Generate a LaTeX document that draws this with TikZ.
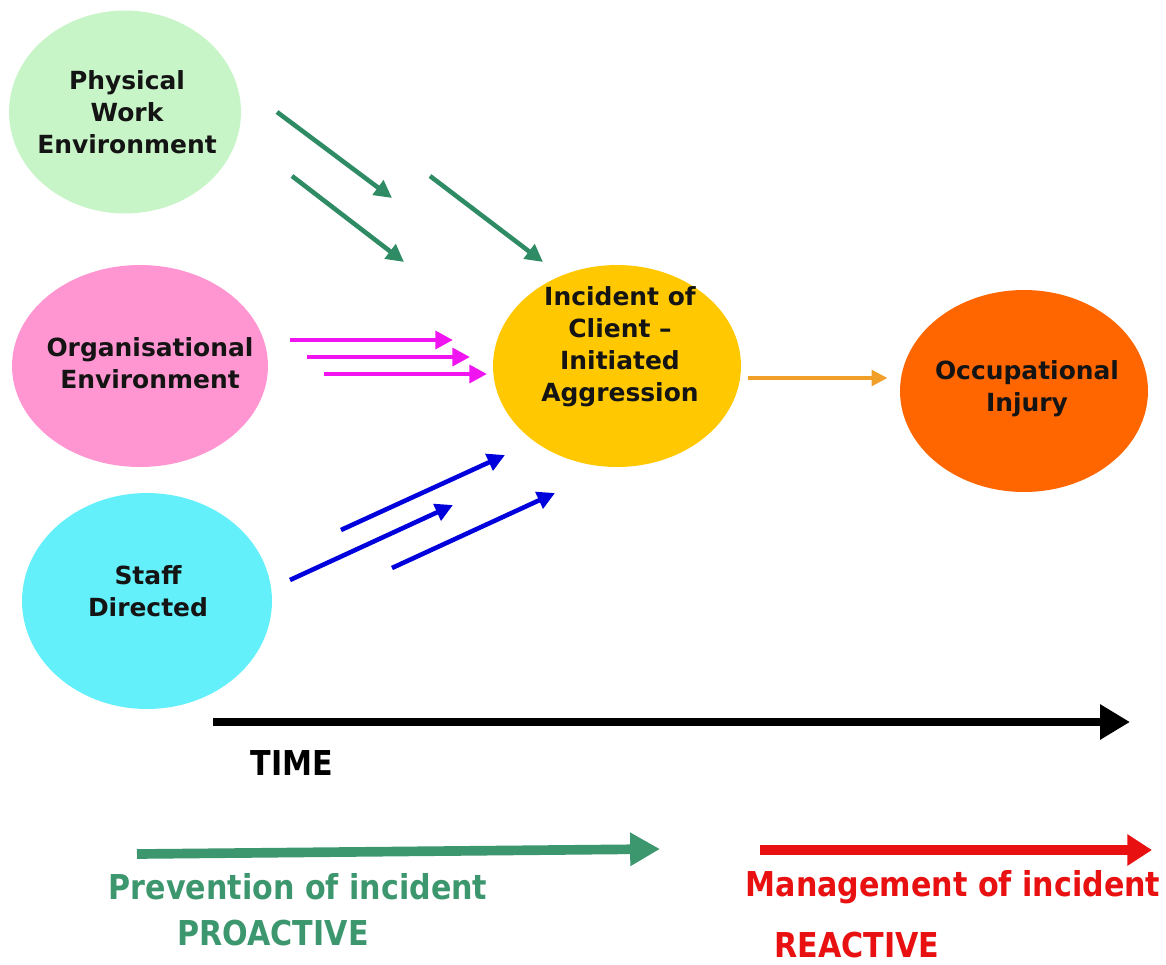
\documentclass[tikz,border=0pt]{standalone}
\usepackage{fontspec}
\setmainfont{DejaVu Sans}
\newfontfamily\narrowfont{DejaVu Sans}[FakeStretch=0.88]
\usetikzlibrary{shapes.geometric,arrows.meta}

\definecolor{workfill}{RGB}{200,245,200}
\definecolor{orgfill}{RGB}{255,150,210}
\definecolor{stafffill}{RGB}{100,240,250}
\definecolor{incidentfill}{RGB}{255,200,0}
\definecolor{injuryfill}{RGB}{255,102,0}
\definecolor{workline}{RGB}{46,139,100}
\definecolor{orgline}{RGB}{240,20,240}
\definecolor{staffline}{RGB}{0,0,220}
\definecolor{flowline}{RGB}{240,160,40}
\definecolor{proactive}{RGB}{60,150,110}
\definecolor{reactive}{RGB}{232,16,16}
\definecolor{textdark}{RGB}{20,20,20}

\tikzset{
  blob/.style={ellipse, inner sep=0pt},
  blobtext/.style={align=center, text=textdark, font=\fontsize{14.2}{18.2}\selectfont\bfseries},
  feed/.style={line width=2.6pt, -{Triangle[length=10pt,width=10pt]}},
  bigarrow/.style={line width=5.5pt, -{Triangle[length=17pt,width=18pt]}},
  bottomtext/.style={font=\narrowfont\fontsize{19.5}{24}\selectfont\bfseries}
}

\begin{document}
\begin{tikzpicture}[x=0.02cm,y=-0.02cm]
\useasboundingbox (0,0) rectangle (1166,964);

% causes
\node[blob, fill=workfill, minimum width=4.64cm, minimum height=4.06cm] (work) at (125,112) {};
\node[blobtext] (worktext) at (127,112) {Physical\\Work\\Environment};
\node[blob, fill=orgfill, minimum width=5.12cm, minimum height=4.04cm] (org) at (140,366) {};
\node[blobtext] (orgtext) at (150,363) {Organisational\\Environment};
\node[blob, fill=stafffill, minimum width=5cm, minimum height=4.32cm] (staff) at (147,601) {};
\node[blobtext] (stafftext) at (148,591) {Staff\\Directed};

% incident and outcome
\node[blob, fill=incidentfill, minimum width=4.96cm, minimum height=4.04cm] (incident) at (617,366) {};
\node[blobtext] (incidenttext) at (620,347) {Incident of\\Client --\\Initiated\\Aggression};
\node[blob, fill=injuryfill, minimum width=4.96cm, minimum height=4.04cm] (injury) at (1024,391) {};
\node[blobtext] (injurytext) at (1027,389) {Occupational\\Injury};

% influences
\draw[feed, workline] (277,112) -- (392,198);
\draw[feed, workline] (292,176) -- (404,262);
\draw[feed, workline] (430,176) -- (543,262);
\foreach \d in {0,17,34}
  \draw[feed, orgline] (290+\d,340+\d) -- ++(163,0);
\draw[feed, staffline] (341,530) -- (505,455);
\draw[feed, staffline] (290,580) -- (453,505);
\draw[feed, staffline] (392,568) -- (555,493);

\coordinate (hit) at (748,378);
\draw[line width=1.9pt, flowline, -{Triangle[length=9pt,width=9pt]}, shorten >=7pt] (hit) -- (hit -| injury.west);

% time line
\coordinate (tstart) at (213,722);
\coordinate (tend) at (1130,722);
\draw[line width=4.8pt, black, -{Triangle[length=17pt,width=19pt]}] (tstart) -- (tend);
\node[bottomtext] (time) at (292,763) {TIME};

\coordinate (pstart) at (137,854);
\coordinate (pend) at (660,849);
\draw[bigarrow, proactive] (pstart) -- (pend);
\node[bottomtext, text=proactive] (prevention) at (298,887) {Prevention of incident};
\node[bottomtext, text=proactive] (pro) at (273,933) {PROACTIVE};

\coordinate (rstart) at (760,850);
\coordinate (rend) at (1152,850);
\draw[bigarrow, reactive, -{Triangle[length=14pt,width=17pt]}] (rstart) -- (rend);
\node[bottomtext, text=reactive] (management) at (953,887) {Management of incident};
\node[bottomtext, text=reactive] (re) at (857,945) {REACTIVE};
\end{tikzpicture}
\end{document}
